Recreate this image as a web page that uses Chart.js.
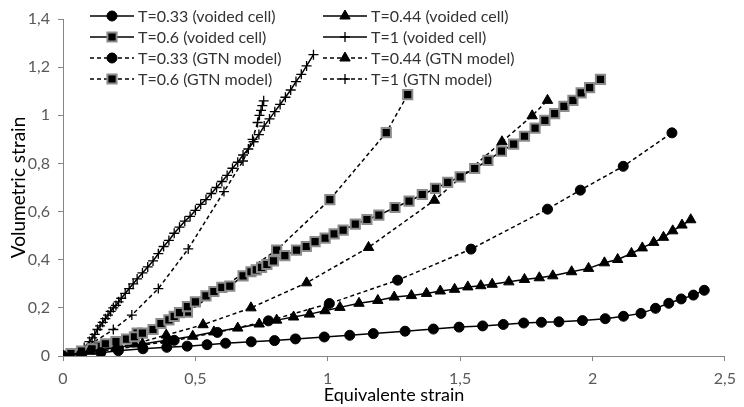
<!DOCTYPE html>
<html>
<head>
<meta charset="utf-8">
<title>Volumetric vs equivalent strain</title>
<script src="https://cdn.jsdelivr.net/npm/chart.js@4.4.1/dist/chart.umd.min.js"></script>
<style>
  body { margin: 0; background: #ffffff; }
  #wrap { width: 744px; height: 407px; }
</style>
</head>
<body>
<div id="wrap"><canvas id="strain-chart" width="744" height="407"></canvas></div>
<script>
// Series: [equivalent strain, volumetric strain]
const t033Cell = [[0,0],[0.07,0.008],[0.143,0.014],[0.209,0.022],[0.302,0.03],[0.392,0.036],[0.469,0.041],
  [0.544,0.047],[0.614,0.053],[0.711,0.059],[0.799,0.064],[0.878,0.071],[0.987,0.079],[1.083,0.086],
  [1.172,0.093],[1.292,0.103],[1.399,0.112],[1.496,0.12],[1.585,0.125],[1.663,0.131],[1.74,0.137],
  [1.807,0.14],[1.873,0.142],[1.962,0.147],[2.048,0.155],[2.117,0.165],[2.183,0.177],[2.238,0.198],
  [2.288,0.219],[2.335,0.237],[2.381,0.253],[2.422,0.273]];
const t044Cell = [[0,0],[0.1,0.02],[0.2,0.035],[0.3,0.05],[0.39,0.065],[0.49,0.082],[0.57,0.1],[0.66,0.116],
  [0.741,0.133],[0.807,0.149],[0.871,0.162],[0.931,0.174],[0.99,0.188],[1.046,0.202],[1.118,0.219],
  [1.189,0.231],[1.251,0.245],[1.316,0.251],[1.373,0.26],[1.425,0.27],[1.479,0.277],[1.529,0.287],
  [1.578,0.292],[1.621,0.298],[1.684,0.308],[1.743,0.318],[1.799,0.325],[1.85,0.333],[1.921,0.35],
  [1.985,0.364],[2.045,0.387],[2.095,0.401],[2.147,0.426],[2.188,0.449],[2.231,0.472],[2.268,0.493],
  [2.303,0.52],[2.338,0.544],[2.371,0.566]];
const t06Cell = [[0,0],[0.03,0.01],[0.07,0.02],[0.11,0.03],[0.16,0.05],[0.2,0.06],[0.24,0.07],[0.27,0.08],
  [0.3,0.095],[0.34,0.11],[0.37,0.135],[0.4,0.15],[0.42,0.165],[0.44,0.18],[0.47,0.205],[0.5,0.225],
  [0.54,0.25],[0.57,0.268],[0.6,0.285],[0.63,0.29],[0.68,0.333],[0.71,0.35],[0.73,0.358],[0.75,0.368],
  [0.77,0.38],[0.795,0.395],[0.838,0.417],[0.882,0.44],[0.919,0.455],[0.952,0.475],[0.99,0.49],
  [1.024,0.507],[1.058,0.523],[1.104,0.548],[1.148,0.567],[1.193,0.585],[1.254,0.617],[1.307,0.643],
  [1.357,0.671],[1.407,0.696],[1.453,0.721],[1.5,0.744],[1.555,0.779],[1.605,0.813],[1.656,0.851],
  [1.702,0.88],[1.743,0.913],[1.783,0.947],[1.82,0.979],[1.857,1.007],[1.892,1.037],[1.926,1.062],
  [1.957,1.093],[1.989,1.115],[2.03,1.149]];
const t1Cell = [[0,0],[0.02,0.005],[0.04,0.012],[0.06,0.02],[0.08,0.035],[0.1,0.06],[0.11,0.075],[0.12,0.09],
  [0.13,0.11],[0.14,0.125],[0.15,0.14],[0.16,0.155],[0.17,0.17],[0.18,0.185],[0.19,0.2],[0.2,0.21],
  [0.21,0.225],[0.22,0.24],[0.235,0.26],[0.25,0.28],[0.265,0.3],[0.28,0.32],[0.3,0.345],[0.32,0.37],
  [0.34,0.395],[0.36,0.425],[0.38,0.455],[0.4,0.48],[0.42,0.51],[0.44,0.535],[0.46,0.56],[0.48,0.58],
  [0.5,0.605],[0.52,0.63],[0.54,0.65],[0.56,0.675],[0.58,0.7],[0.6,0.725],[0.62,0.75],[0.64,0.78],
  [0.66,0.805],[0.68,0.835],[0.7,0.86],[0.72,0.89],[0.74,0.92],[0.76,0.955],[0.78,0.985],[0.8,1.015],
  [0.82,1.045],[0.84,1.075],[0.86,1.105],[0.88,1.14],[0.9,1.17],[0.92,1.205],[0.946,1.252]];
const t033Gtn = [[0,0],[0.21,0.03],[0.42,0.065],[0.583,0.098],[0.776,0.146],[1.006,0.218],[1.264,0.315],
  [1.541,0.444],[1.83,0.61],[1.954,0.689],[2.116,0.788],[2.3,0.927]];
const t044Gtn = [[0,0],[0.13,0.02],[0.27,0.05],[0.39,0.087],[0.529,0.13],[0.71,0.2],[0.92,0.304],
  [1.154,0.451],[1.403,0.647],[1.658,0.89],[1.772,0.998],[1.83,1.062]];
const t06Gtn = [[0,0],[0.13,0.04],[0.28,0.095],[0.47,0.182],[0.807,0.44],[1.008,0.65],[1.221,0.928],
  [1.302,1.086]];
const t1Gtn = [[0,0],[0.06,0.02],[0.12,0.06],[0.19,0.11],[0.26,0.17],[0.36,0.28],[0.473,0.445],
  [0.608,0.683],[0.68,0.81],[0.716,0.9],[0.735,0.97],[0.742,1.0],[0.748,1.02],[0.753,1.04],[0.758,1.06]];

const seriesLabels = ['T=0.33 (voided cell)', 'T=0.44 (voided cell)', 'T=0.6 (voided cell)', 'T=1 (voided cell)',
  'T=0.33 (GTN model)', 'T=0.44 (GTN model)', 'T=0.6 (GTN model)', 'T=1 (GTN model)'];
const xTicks = [0, 0.5, 1, 1.5, 2, 2.5];
const yTicks = [0, 0.2, 0.4, 0.6, 0.8, 1, 1.2, 1.4];

const FONT = 'Lato, "Open Sans", sans-serif';
const toPts = arr => arr.map(p => ({ x: p[0], y: p[1] }));
const decimalComma = v => String(Math.round(v * 10) / 10).replace('.', ',');

// marker look per T value
const markerStyles = {
  circle:   { pointStyle: 'circle',   pointRadius: 5,   pointBackgroundColor: '#000', pointBorderColor: '#000', pointBorderWidth: 1 },
  triangle: { pointStyle: 'triangle', pointRadius: 6,   pointBackgroundColor: '#000', pointBorderColor: '#000', pointBorderWidth: 1 },
  rect:     { pointStyle: 'rect',     pointRadius: 6.5, pointBackgroundColor: '#000', pointBorderColor: '#8c8c8c', pointBorderWidth: 2 },
  cross:    { pointStyle: 'cross',    pointRadius: 5,   pointBackgroundColor: '#000', pointBorderColor: '#000', pointBorderWidth: 1.3 }
};

function makeSet(label, pts, marker, dashed) {
  return Object.assign({
    label: label,
    data: toPts(pts),
    showLine: true,
    borderColor: '#000',
    borderWidth: 1.5,
    borderDash: dashed ? [4, 3] : [],
    pointHoverRadius: 6
  }, markerStyles[marker]);
}

// draws the 2-column legend inside the plot, like the original
const insideLegend = {
  id: 'insideLegend',
  afterDraw(chart) {
    const ctx = chart.ctx;
    chart.data.datasets.forEach((ds, i) => {
      const col = i % 2;
      const row = Math.floor(i / 2);
      const x0 = col ? 323 : 90;
      const x1 = col ? 367 : 134;
      const y = 16 + row * 21;
      ctx.save();
      ctx.strokeStyle = '#000';
      ctx.lineWidth = ds.borderWidth;
      ctx.setLineDash(ds.borderDash);
      ctx.beginPath();
      ctx.moveTo(x0, y);
      ctx.lineTo(x1, y);
      ctx.stroke();
      ctx.setLineDash([]);
      ctx.fillStyle = ds.pointBackgroundColor;
      ctx.strokeStyle = ds.pointBorderColor;
      ctx.lineWidth = ds.pointBorderWidth;
      Chart.helpers.drawPoint(ctx, { pointStyle: ds.pointStyle, radius: ds.pointRadius, borderWidth: ds.pointBorderWidth, rotation: 0 }, (x0 + x1) / 2, y);
      ctx.fillStyle = '#333333';
      ctx.font = '16px ' + FONT;
      ctx.textBaseline = 'middle';
      ctx.fillText(ds.label, x1 + 4, y + 1);
      ctx.restore();
    });
  }
};

const ctx = document.getElementById('strain-chart').getContext('2d');
new Chart(ctx, {
  type: 'scatter',
  data: {
    datasets: [
      makeSet(seriesLabels[0], t033Cell, 'circle', false),
      makeSet(seriesLabels[1], t044Cell, 'triangle', false),
      makeSet(seriesLabels[2], t06Cell, 'rect', false),
      makeSet(seriesLabels[3], t1Cell, 'cross', false),
      makeSet(seriesLabels[4], t033Gtn, 'circle', true),
      makeSet(seriesLabels[5], t044Gtn, 'triangle', true),
      makeSet(seriesLabels[6], t06Gtn, 'rect', true),
      makeSet(seriesLabels[7], t1Gtn, 'cross', true)
    ]
  },
  options: {
    responsive: false,
    animation: false,
    layout: { autoPadding: false, padding: { top: 19, right: 11, left: 0, bottom: 0 } },
    plugins: {
      legend: { display: false },
      tooltip: { enabled: true }
    },
    scales: {
      x: {
        type: 'linear',
        min: 0,
        max: 2.5,
        afterFit: s => { s.height = 51; },
        afterBuildTicks: s => { s.ticks = xTicks.map(v => ({ value: v })); },
        grid: { drawOnChartArea: false, drawTicks: true, tickLength: 5, color: '#868686' },
        border: { display: true, color: '#868686', width: 1 },
        ticks: { color: '#595959', font: { family: FONT, size: 16 }, padding: 8, maxRotation: 0,
          callback: v => decimalComma(v) },
        title: { display: true, text: 'Equivalente strain', color: '#000', font: { family: FONT, size: 18 },
          padding: { top: 0, bottom: 1 } }
      },
      y: {
        type: 'linear',
        min: 0,
        max: 1.4,
        afterFit: s => { s.width = 63; },
        afterBuildTicks: s => { s.ticks = yTicks.map(v => ({ value: v })); },
        grid: { drawOnChartArea: false, drawTicks: true, tickLength: 5, color: '#868686' },
        border: { display: true, color: '#868686', width: 1 },
        ticks: { color: '#595959', font: { family: FONT, size: 16 }, padding: 8,
          callback: v => decimalComma(v) },
        title: { display: true, text: 'Volumetric strain', color: '#000', font: { family: FONT, size: 19 },
          padding: { top: 7, bottom: 0 } }
      }
    }
  },
  plugins: [insideLegend]
});
</script>
</body>
</html>
